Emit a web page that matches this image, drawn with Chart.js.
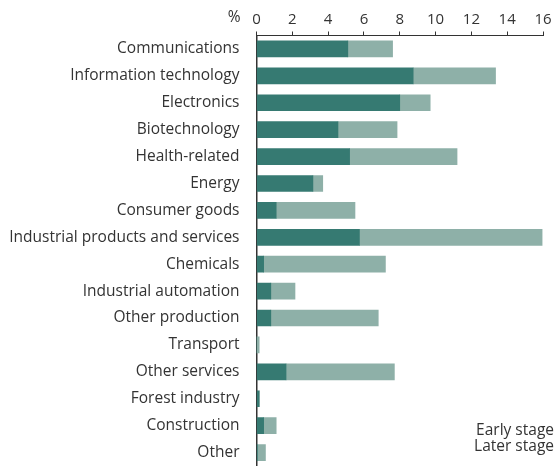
<!DOCTYPE html>
<html>
<head>
<meta charset="utf-8">
<script src="https://cdn.jsdelivr.net/npm/chart.js@4/dist/chart.umd.min.js"></script>
<style>
html,body{margin:0;padding:0;background:#fff;overflow:hidden;}
#wrap{width:555px;height:466px;position:relative;}
</style>
</head>
<body>
<div id="wrap"><canvas id="c" width="555" height="466"></canvas></div>
<script>
const categories = ["Communications","Information technology","Electronics","Biotechnology","Health-related","Energy","Consumer goods","Industrial products and services","Chemicals","Industrial automation","Other production","Transport","Other services","Forest industry","Construction","Other"];
const earlyStage = [5.1, 8.75, 8.0, 4.55, 5.2, 3.15, 1.1, 5.75, 0.4, 0.8, 0.8, 0, 1.65, 0.15, 0.4, 0.05];
const laterStage = [2.5, 4.6, 1.7, 3.3, 6.0, 0.55, 4.4, 10.2, 6.8, 1.35, 6.0, 0.15, 6.05, 0, 0.7, 0.45];
const xTicks = [0, 2, 4, 6, 8, 10, 12, 14, 16];
const seriesNames = ["Early stage", "Later stage"];

const FONT = "'Open Sans', 'Noto Sans', sans-serif";
const TEXT = "#333333";

const extraText = {
  id: 'extraText',
  afterDraw(chart) {
    const ctx = chart.ctx;
    const xs = chart.scales.x;
    ctx.save();
    ctx.fillStyle = TEXT;
    ctx.font = "15.5px " + FONT;
    ctx.textAlign = 'right';
    ctx.textBaseline = 'middle';
    ctx.fillText('%', xs.left - 16, 18);
    ctx.fillText(seriesNames[0], 554, 431);
    ctx.fillText(seriesNames[1], 554, 447);
    ctx.restore();
  }
};

new Chart(document.getElementById('c'), {
  type: 'bar',
  data: {
    labels: categories,
    datasets: [
      { label: seriesNames[0], data: earlyStage, backgroundColor: '#367a72', barThickness: 16 },
      { label: seriesNames[1], data: laterStage, backgroundColor: '#8eb0a8', barThickness: 16 }
    ]
  },
  options: {
    indexAxis: 'y',
    responsive: false,
    animation: false,
    layout: { padding: { top: 7.5, right: 12, bottom: 0, left: 0 } },
    plugins: { legend: { display: false }, tooltip: { enabled: false } },
    scales: {
      x: {
        position: 'top',
        stacked: true,
        min: 0, max: 16,
        afterBuildTicks(s) { s.ticks = xTicks.map(v => ({ value: v })); },
        ticks: { color: TEXT, font: { family: FONT, size: 15 }, padding: 3 },
        grid: { drawOnChartArea: false, tickLength: 4, color: '#333', lineWidth: 1 },
        border: { display: true, color: '#333', width: 1 }
      },
      y: {
        stacked: true,
        afterFit(s) { s.width = 256.5; s.paddingTop = 0; s.paddingBottom = 0; },
        ticks: { color: TEXT, font: { family: FONT, size: 15.5 }, padding: 17 },
        grid: { display: false, drawTicks: false },
        border: { display: true, color: '#333', width: 1.5 }
      }
    }
  },
  plugins: [extraText]
});
</script>
</body>
</html>
